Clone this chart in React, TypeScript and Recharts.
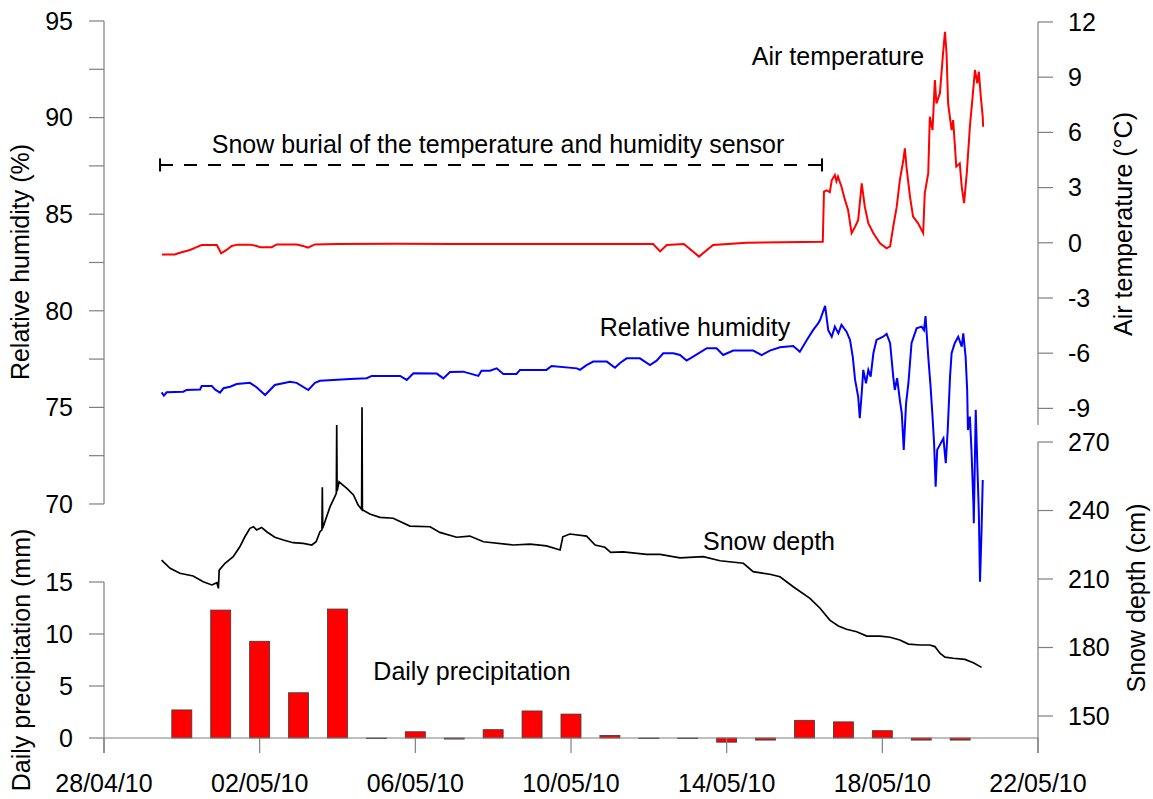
import React from "react";
import { ComposedChart, Line, Bar, XAxis, YAxis, ReferenceLine } from "recharts";

const W = 1153;
const H = 799;
const FONT = '"Liberation Sans", Arial, sans-serif';
const AXIS = "#7f7f7f";
const BAR_W = 20;

// x axis: days since 28/04/10 00:00
const dayTicks = [0, 4, 8, 12, 16, 20, 24];
const dayLabels = ["28/04/10", "02/05/10", "06/05/10", "10/05/10", "14/05/10", "18/05/10", "22/05/10"];

const rhTicks = [70, 72.5, 75, 77.5, 80, 82.5, 85, 87.5, 90, 92.5, 95];
const tempTicks = [-9, -6, -3, 0, 3, 6, 9, 12];
const precipTicks = [0, 5, 10, 15];
const snowTicks = [150, 180, 210, 240, 270];

// daily precipitation (mm), one bar per day from 30/04 to 20/05
const precipDays = [2, 3, 4, 5, 6, 7, 8, 9, 10, 11, 12, 13, 14, 15, 16, 17, 18, 19, 20, 21, 22];
const precipMm = [2.7, 12.3, 9.3, 4.35, 12.4, 0, 0.6, -0.1, 0.8, 2.6, 2.3, 0.25, 0, 0, -0.4, -0.2, 1.7, 1.55, 0.7, -0.2, -0.2];

// air temperature (°C) [day, value]
const airTemp: [number, number][] = [
  [1.49, -0.63], [1.82, -0.63], [1.95, -0.54], [2.21, -0.39], [2.38, -0.24], [2.51, -0.12], [2.9, -0.12],
  [3.01, -0.57], [3.15, -0.39], [3.28, -0.17], [3.44, -0.1], [3.75, -0.1], [3.92, -0.17], [4.01, -0.24],
  [4.31, -0.24], [4.44, -0.09], [4.95, -0.09], [5.11, -0.17], [5.24, -0.26], [5.42, -0.09], [5.99, -0.07],
  [7.5, -0.05], [9.0, -0.07], [10.5, -0.06], [12.0, -0.07], [13.5, -0.06], [14.11, -0.07], [14.29, -0.47],
  [14.46, -0.12], [14.9, -0.07], [15.29, -0.75], [15.65, -0.12], [16.51, 0.0], [18.47, 0.05],
  [18.5, 2.78], [18.57, 2.85], [18.65, 2.75], [18.7, 3.4], [18.78, 3.68], [18.82, 3.35], [18.86, 3.6],
  [18.95, 3.05], [19.04, 2.33], [19.12, 1.78], [19.21, 0.52], [19.3, 0.87], [19.38, 1.24], [19.47, 3.23],
  [19.55, 1.96], [19.64, 1.06], [19.77, 0.52], [19.94, -0.03], [20.11, -0.3], [20.2, -0.2], [20.28, 0.87],
  [20.37, 1.96], [20.45, 3.41], [20.54, 4.5], [20.58, 5.13], [20.62, 4.14], [20.71, 2.51], [20.79, 1.42],
  [20.92, 1.06], [21.05, 0.52], [21.09, 2.69], [21.18, 3.78], [21.22, 6.85], [21.29, 6.13], [21.35, 8.85],
  [21.39, 7.58], [21.48, 8.13], [21.56, 10.3], [21.61, 11.47], [21.65, 10.3], [21.69, 7.58], [21.78, 6.13],
  [21.82, 6.67], [21.9, 4.14], [21.99, 4.32], [22.04, 3.05], [22.1, 2.15], [22.17, 3.78], [22.25, 6.31],
  [22.32, 7.94], [22.38, 9.39], [22.44, 8.67], [22.48, 9.3], [22.53, 7.94], [22.58, 6.85], [22.59, 6.31],
];

// relative humidity (%) [day, value]
const relHum: [number, number][] = [
  [1.48, 75.78], [1.54, 75.61], [1.61, 75.78], [2.04, 75.81], [2.12, 75.9], [2.47, 75.93], [2.51, 76.11],
  [2.77, 76.11], [2.85, 75.93], [2.98, 75.76], [3.07, 75.99], [3.24, 76.07], [3.41, 76.21], [3.75, 76.27],
  [3.92, 76.04], [4.14, 75.64], [4.39, 76.16], [4.78, 76.33], [4.95, 76.27], [5.25, 75.9], [5.42, 76.27],
  [5.55, 76.38], [5.89, 76.42], [6.32, 76.47], [6.75, 76.51], [6.88, 76.63], [7.61, 76.63], [7.78, 76.42],
  [7.95, 76.77], [8.55, 76.75], [8.72, 76.5], [8.89, 76.83], [9.23, 76.85], [9.62, 76.63], [9.7, 76.9],
  [9.92, 76.9], [10.09, 77.02], [10.26, 76.73], [10.6, 76.73], [10.69, 76.94], [11.37, 76.94], [11.5, 77.14],
  [12.15, 77.02], [12.23, 76.94], [12.4, 77.19], [12.57, 77.37], [12.92, 77.37], [13.13, 77.05], [13.26, 77.3],
  [13.43, 77.54], [13.77, 77.54], [14.03, 77.19], [14.2, 77.42], [14.37, 77.8], [14.63, 77.8], [14.8, 77.71],
  [14.97, 77.42], [15.14, 77.63], [15.49, 78.06], [15.74, 78.06], [15.91, 77.71], [16.17, 77.94], [16.68, 77.94],
  [16.9, 77.71], [17.11, 77.94], [17.37, 78.11], [17.71, 78.18], [17.88, 77.88], [18.06, 78.49], [18.22, 79.0],
  [18.35, 79.35], [18.4, 79.52], [18.53, 80.25], [18.61, 79.0], [18.7, 78.66], [18.78, 79.18], [18.87, 78.83],
  [18.95, 79.27], [19.08, 78.92], [19.17, 78.49], [19.24, 77.62], [19.3, 76.42], [19.38, 75.55], [19.42, 74.44],
  [19.47, 75.73], [19.51, 76.94], [19.58, 76.25], [19.64, 76.94], [19.7, 76.59], [19.77, 77.8], [19.85, 78.49],
  [20.02, 78.66], [20.11, 78.8], [20.2, 78.32], [20.28, 76.59], [20.32, 75.9], [20.38, 76.51], [20.45, 75.38],
  [20.5, 74.69], [20.55, 72.8], [20.61, 75.21], [20.67, 76.25], [20.75, 78.32], [20.88, 79.09], [21.01, 79.18],
  [21.07, 79.0], [21.11, 79.73], [21.18, 77.62], [21.24, 76.07], [21.29, 74.52], [21.33, 73.14], [21.37, 70.9],
  [21.41, 72.8], [21.57, 73.4], [21.63, 72.11], [21.68, 73.83], [21.74, 76.59], [21.78, 77.8], [21.86, 78.32],
  [21.95, 78.66], [22.04, 78.14], [22.08, 78.83], [22.14, 77.62], [22.18, 75.9], [22.2, 73.83], [22.25, 74.52],
  [22.29, 72.8], [22.34, 70.04], [22.35, 69.0], [22.4, 74.87], [22.44, 72.11], [22.48, 69.52], [22.51, 65.98],
  [22.55, 68.65], [22.58, 71.24],
];

// snow depth (cm) [day, value]
const snowDepth: [number, number][] = [
  [1.48, 218.3], [1.7, 214.7], [1.95, 212.5], [2.29, 211.3], [2.55, 208.8], [2.77, 207.4], [2.9, 208.4],
  [2.94, 205.9], [2.96, 213.9], [3.11, 216.9], [3.32, 219.8], [3.49, 224.1], [3.62, 228.5], [3.75, 232.2],
  [3.84, 232.9], [3.92, 231.5], [4.05, 232.6], [4.18, 230.7], [4.39, 228.3], [4.61, 227.1], [4.86, 225.9],
  [5.12, 225.6], [5.34, 224.9], [5.45, 226.3], [5.55, 230.7], [5.6, 231.5], [5.61, 250.2], [5.62, 232.2],
  [5.72, 237.3], [5.81, 241.7], [5.91, 245.3], [5.97, 247.5], [5.98, 277.4], [5.99, 248.5], [6.04, 252.6],
  [6.24, 249.7], [6.41, 246.8], [6.53, 242.4], [6.62, 240.5], [6.63, 285.2], [6.64, 240.3], [6.83, 238.5],
  [7.09, 237], [7.43, 236.6], [7.86, 233.2], [8.38, 232.9], [8.63, 230.4], [9.06, 228.3], [9.4, 228.8],
  [9.75, 226.3], [10.52, 224.9], [10.95, 225.3], [11.37, 224.5], [11.72, 222.7], [11.79, 228.5], [11.97, 229.7],
  [12.4, 228.8], [12.62, 224.9], [12.87, 223.9], [13.02, 221.7], [13.34, 221.9], [13.94, 220.8], [14.29, 220.8],
  [14.8, 219.3], [15.4, 219.8], [15.83, 218], [16.43, 216.9], [16.68, 213.2], [17.11, 212.1], [17.37, 211],
  [17.71, 206.6], [18.14, 201.5], [18.4, 197.2], [18.65, 192.0], [18.87, 189.4], [19.08, 188], [19.34, 186.9],
  [19.6, 185.0], [19.94, 185.0], [20.2, 184.5], [20.45, 183.3], [20.67, 181.5], [20.97, 181.1], [21.22, 181.1],
  [21.35, 180.4], [21.48, 177.5], [21.61, 175.8], [21.82, 175.3], [22.12, 174.8], [22.34, 173.3], [22.55, 171.3],
];

// sensor burial period (days) and where the bracket sits on the RH scale
const burialStart = 1.44;
const burialEnd = 18.45;
const burialLevel = 87.55;

const toPoints = (s: [number, number][]) => s.map(([t, v]) => ({ t, v }));
const precipData = precipDays.map((t, i) => ({ t, p: precipMm[i] }));

const tickStyle = { fontSize: 25, fill: "#000", fontFamily: FONT };

const DateTick = (props: any) => {
  const { x, y, payload } = props;
  const i = dayTicks.indexOf(payload.value);
  return (
    <g>
      <line x1={x} x2={x} y1={y - 15} y2={y} stroke={AXIS} strokeWidth={1.2} />
      <text x={x} y={y + 39} textAnchor="middle" fontSize={25} fontFamily={FONT} fill="#000">
        {dayLabels[i]}
      </text>
    </g>
  );
};

// number x axis gives bars no band width, so draw them centred on the day
const PrecipBar = (props: any) => {
  const { x, y, width, height } = props;
  if (height == null || isNaN(y)) return null;
  const cx = x + (width || 0) / 2;
  const top = Math.min(y, y + height);
  const h = Math.max(Math.abs(height), 0.6);
  return <rect x={cx - BAR_W / 2} y={top} width={BAR_W} height={h} fill="#ff0000" stroke="#3a3a3a" strokeWidth={0.8} />;
};

const layer: React.CSSProperties = { position: "absolute", left: 0, top: 0 };

export default function App() {
  return (
    <div style={{ position: "absolute", left: 0, top: 0, width: W, height: H, background: "#fff" }}>
      {/* precipitation + snow depth + date axis */}
      <div style={layer}>
        <ComposedChart width={W} height={H} data={precipData} margin={{ top: 21, right: 0, bottom: 0, left: 0 }}>
          <XAxis
            type="number"
            dataKey="t"
            domain={[0, 24]}
            ticks={dayTicks}
            interval={0}
            height={46}
            axisLine={false}
            tickLine={false}
            tickSize={0}
            tickMargin={0}
            tick={<DateTick />}
          />
          <YAxis
            yAxisId="pr"
            orientation="left"
            width={104}
            domain={[-1.442, 68.94]}
            ticks={precipTicks}
            interval={0}
            axisLine={false}
            tickSize={15}
            tickMargin={16}
            tickLine={{ stroke: AXIS, strokeWidth: 1.2 }}
            tick={tickStyle}
          />
          <YAxis
            yAxisId="snow"
            orientation="right"
            width={115}
            domain={[133.8, 454.38]}
            ticks={snowTicks}
            interval={0}
            axisLine={false}
            tickSize={15}
            tickMargin={15}
            tickLine={{ stroke: AXIS, strokeWidth: 1.2 }}
            tick={tickStyle}
          />
          <ReferenceLine yAxisId="pr" segment={[{ x: 0, y: -1.442 }, { x: 0, y: 15 }]} stroke={AXIS} strokeWidth={1.2} />
          <ReferenceLine yAxisId="snow" segment={[{ x: 24, y: 133.8 }, { x: 24, y: 270 }]} stroke={AXIS} strokeWidth={1.2} />
          <Bar yAxisId="pr" dataKey="p" barSize={BAR_W} shape={<PrecipBar />} isAnimationActive={false} />
          <ReferenceLine yAxisId="pr" y={0} stroke={AXIS} strokeWidth={1.2} />
          <Line
            yAxisId="snow"
            data={toPoints(snowDepth)}
            dataKey="v"
            type="linear"
            stroke="#000"
            strokeWidth={1.7}
            dot={false}
            isAnimationActive={false}
          />
        </ComposedChart>
      </div>

      {/* relative humidity + air temperature */}
      <div style={layer}>
        <ComposedChart width={W} height={H} margin={{ top: 21, right: 0, bottom: 46, left: 0 }}>
          <XAxis type="number" dataKey="t" domain={[0, 24]} hide />
          <YAxis
            yAxisId="rh"
            orientation="left"
            width={104}
            domain={[57.11, 95]}
            ticks={rhTicks}
            interval={0}
            axisLine={false}
            tickSize={15}
            tickMargin={16}
            tickLine={{ stroke: AXIS, strokeWidth: 1.2 }}
            tick={tickStyle}
            tickFormatter={(v: number) => (v % 5 === 0 ? String(v) : "")}
          />
          <YAxis
            yAxisId="temp"
            orientation="right"
            width={115}
            domain={[-27.73, 12.054]}
            ticks={tempTicks}
            interval={0}
            axisLine={false}
            tickSize={15}
            tickMargin={15}
            tickLine={{ stroke: AXIS, strokeWidth: 1.2 }}
            tick={tickStyle}
          />
          <ReferenceLine yAxisId="rh" segment={[{ x: 0, y: 70 }, { x: 0, y: 95 }]} stroke={AXIS} strokeWidth={1.2} />
          <ReferenceLine yAxisId="temp" segment={[{ x: 24, y: -9.9 }, { x: 24, y: 12 }]} stroke={AXIS} strokeWidth={1.2} />
          <ReferenceLine
            yAxisId="rh"
            segment={[{ x: burialStart, y: burialLevel }, { x: burialEnd, y: burialLevel }]}
            stroke="#000"
            strokeWidth={2}
            strokeDasharray="13 11"
          />
          <ReferenceLine
            yAxisId="rh"
            segment={[{ x: burialStart, y: burialLevel - 0.34 }, { x: burialStart, y: burialLevel + 0.34 }]}
            stroke="#000"
            strokeWidth={2}
          />
          <ReferenceLine
            yAxisId="rh"
            segment={[{ x: burialEnd, y: burialLevel - 0.34 }, { x: burialEnd, y: burialLevel + 0.34 }]}
            stroke="#000"
            strokeWidth={2}
          />
          <Line
            yAxisId="temp"
            data={toPoints(airTemp)}
            dataKey="v"
            type="linear"
            stroke="#ff0000"
            strokeWidth={2}
            dot={false}
            isAnimationActive={false}
          />
          <Line
            yAxisId="rh"
            data={toPoints(relHum)}
            dataKey="v"
            type="linear"
            stroke="#0000ff"
            strokeWidth={2}
            dot={false}
            isAnimationActive={false}
          />
        </ComposedChart>
      </div>

      {/* titles and series labels */}
      <svg width={W} height={H} style={{ ...layer, pointerEvents: "none" }} fontFamily={FONT} fontSize={25} fill="#000">
        <text transform="translate(29,262) rotate(-90)" textAnchor="middle">Relative humidity (%)</text>
        <text transform="translate(30,660) rotate(-90)" textAnchor="middle">Daily precipitation (mm)</text>
        <text transform="translate(1132,224) rotate(-90)" textAnchor="middle">Air temperature (°C)</text>
        <text transform="translate(1145,598) rotate(-90)" textAnchor="middle">Snow depth (cm)</text>
        <text x={838} y={65} textAnchor="middle">Air temperature</text>
        <text x={498} y={153} textAnchor="middle">Snow burial of the temperature and humidity sensor</text>
        <text x={695} y={336} textAnchor="middle">Relative humidity</text>
        <text x={769} y={550} textAnchor="middle">Snow depth</text>
        <text x={472} y={680} textAnchor="middle">Daily precipitation</text>
      </svg>
    </div>
  );
}
